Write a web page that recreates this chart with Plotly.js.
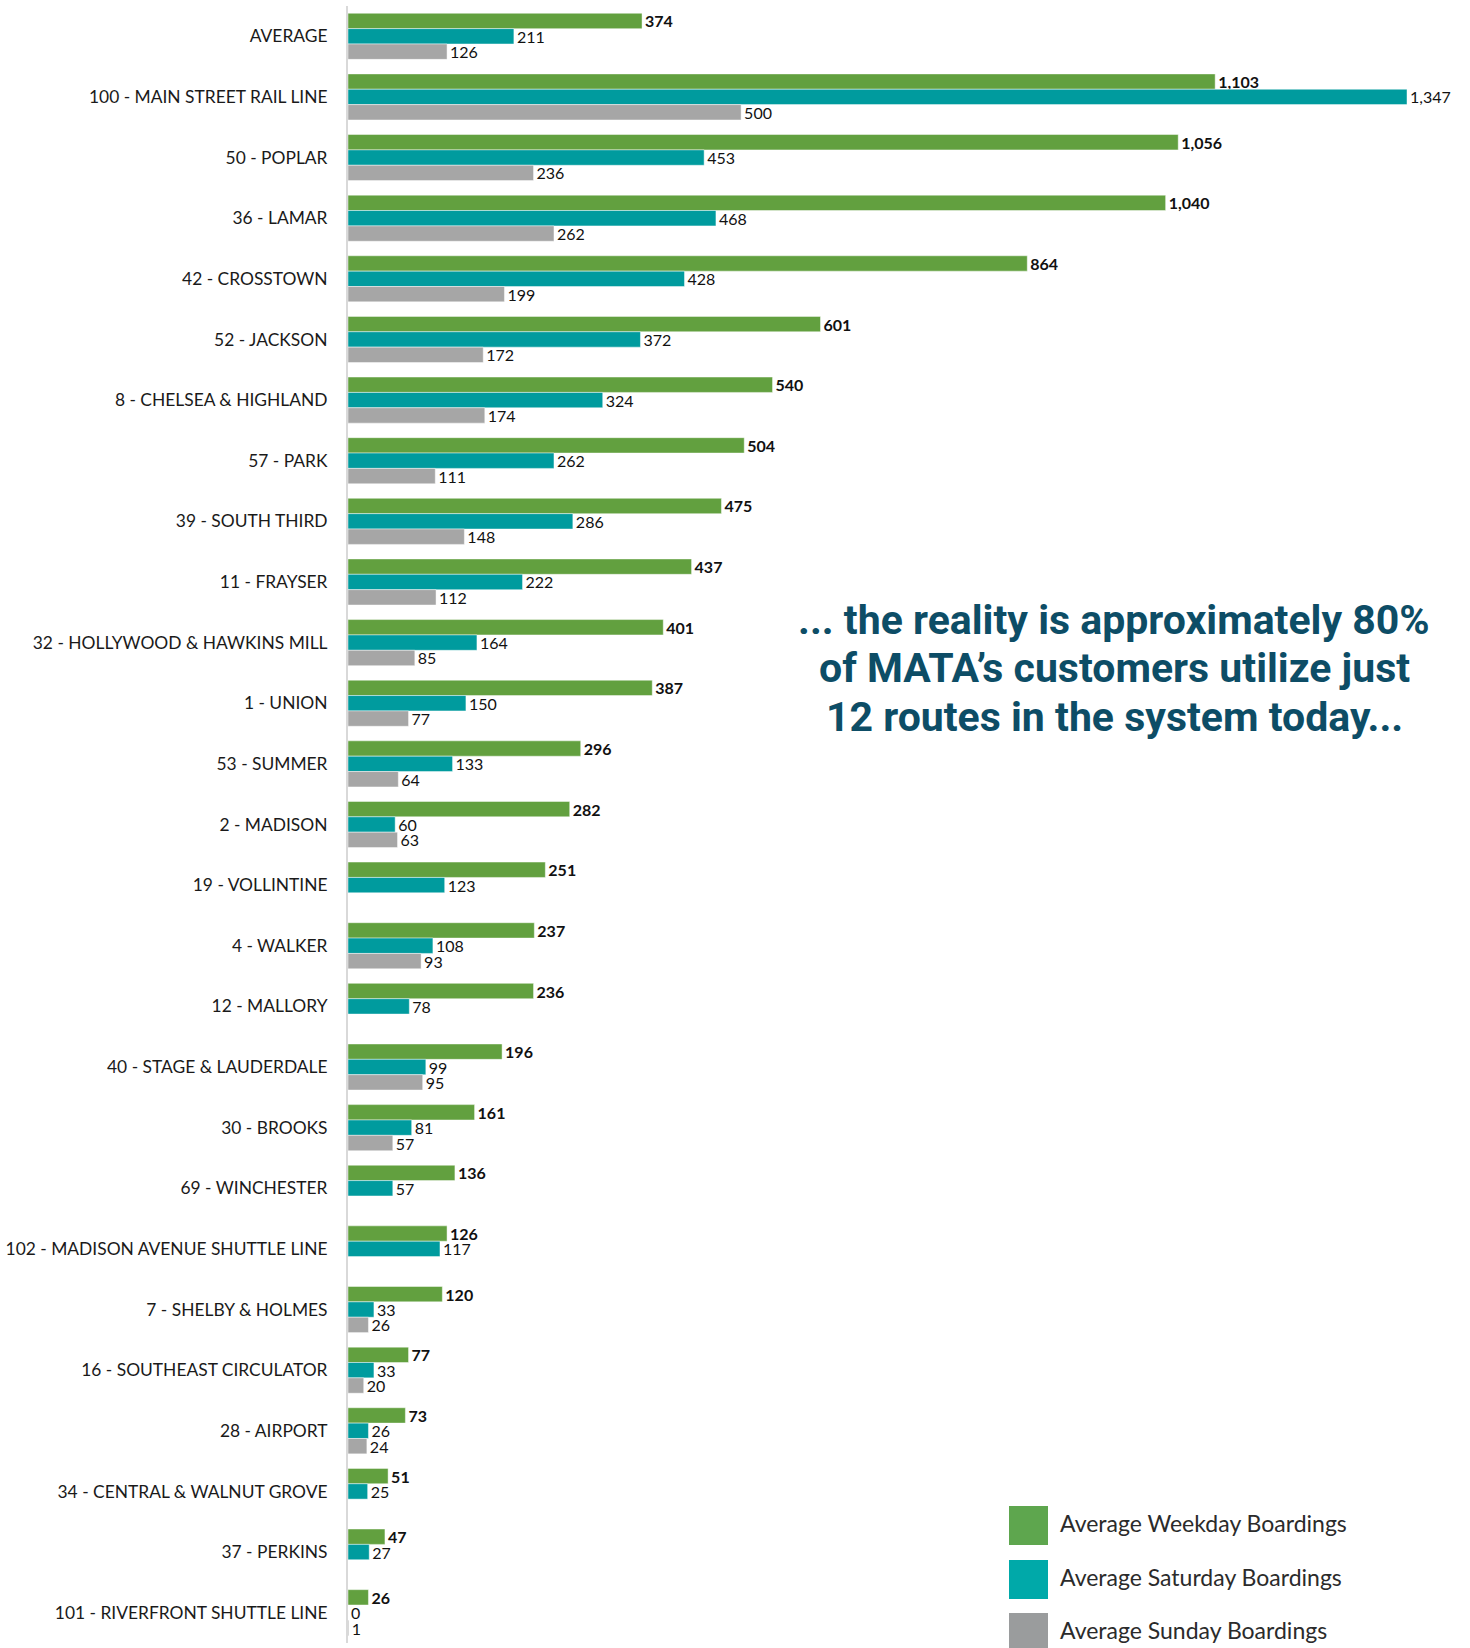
<!DOCTYPE html>
<html>
<head>
<meta charset="utf-8">
<script src="https://cdn.plot.ly/plotly-3.0.1.min.js"></script>
<style>
html,body{margin:0;padding:0;background:#fff;}
#chart{width:1470px;height:1648px;}
</style>
</head>
<body>
<div id="chart"></div>
<script>
const routes = [
  "AVERAGE",
  "100 - MAIN STREET RAIL LINE",
  "50 - POPLAR",
  "36 - LAMAR",
  "42 - CROSSTOWN",
  "52 - JACKSON",
  "8 - CHELSEA & HIGHLAND",
  "57 - PARK",
  "39 - SOUTH THIRD",
  "11 - FRAYSER",
  "32 - HOLLYWOOD & HAWKINS MILL",
  "1 - UNION",
  "53 - SUMMER",
  "2 - MADISON",
  "19 - VOLLINTINE",
  "4 - WALKER",
  "12 - MALLORY",
  "40 - STAGE & LAUDERDALE",
  "30 - BROOKS",
  "69 - WINCHESTER",
  "102 - MADISON AVENUE SHUTTLE LINE",
  "7 - SHELBY & HOLMES",
  "16 - SOUTHEAST CIRCULATOR",
  "28 - AIRPORT",
  "34 - CENTRAL & WALNUT GROVE",
  "37 - PERKINS",
  "101 - RIVERFRONT SHUTTLE LINE"
];
const weekday  = [374,1103,1056,1040,864,601,540,504,475,437,401,387,296,282,251,237,236,196,161,136,126,120,77,73,51,47,26];
const saturday = [211,1347,453,468,428,372,324,262,286,222,164,150,133,60,123,108,78,99,81,57,117,33,33,26,25,27,0];
const sunday   = [126,500,236,262,199,172,174,111,148,112,85,77,64,63,null,93,null,95,57,null,null,26,20,24,null,null,1];

const seriesNames = ["Average Weekday Boardings","Average Saturday Boardings","Average Sunday Boardings"];
const calloutLines = [
  "... the reality is approximately 80%",
  "of MATA\u2019s customers utilize just",
  "12 routes in the system today..."
];

// layout geometry (pixels)
const W = 1470, H = 1648;
const M = {l: 348, r: 40, t: 6, b: 5};
const plotW = W - M.l - M.r, plotH = H - M.t - M.b;
const px = v => (v - M.l) / plotW;
const py = v => (H - M.b - v) / plotH;

const barColors = ["#62a03f", "#009b9e", "#a6a6a6"];
const legendColors = ["#5ea64e", "#00a9a9", "#9a9c9d"];
const valueFont = "Lato, 'Open Sans', sans-serif";

function barTrace(vals, i, bold) {
  return {
    type: "bar",
    orientation: "h",
    name: seriesNames[i],
    y: routes,
    x: vals,
    marker: {color: barColors[i], line: {color: "rgba(255,255,255,0.45)", width: 1}},
    texttemplate: bold ? "<b>%{x:,}</b>" : "%{x:,}",
    textposition: "outside",
    cliponaxis: false,
    constraintext: "none",
    textfont: {family: valueFont, size: 16, color: "#111"},
    hoverinfo: "x+y+name",
    showlegend: false
  };
}

const data = [
  barTrace(weekday, 0, true),
  barTrace(saturday, 1, false),
  barTrace(sunday, 2, false)
];

const shapes = [];
const annotations = [];
const legTop = [1506, 1560, 1613];
seriesNames.forEach((n, i) => {
  shapes.push({
    type: "rect", xref: "paper", yref: "paper",
    x0: px(1009), x1: px(1048), y0: py(legTop[i] + 39), y1: py(legTop[i]),
    fillcolor: legendColors[i], line: {width: 0}
  });
  annotations.push({
    xref: "paper", yref: "paper", x: px(1058), y: py(legTop[i] + 16.5),
    xanchor: "left", yanchor: "middle", showarrow: false,
    text: n, font: {family: "Lato, sans-serif", size: 23, color: "#2b2b2b"}
  });
});
const lineY = [620, 668, 717];
calloutLines.forEach((t, i) => {
  annotations.push({
    xref: "paper", yref: "paper", x: px(1114), y: py(lineY[i]),
    xanchor: "center", yanchor: "middle", showarrow: false,
    text: "<b>" + t + "</b>",
    font: {family: "Roboto, 'Liberation Sans', sans-serif", size: 41, color: "#0d4d66"}
  });
});

const layout = {
  width: W, height: H,
  margin: M,
  paper_bgcolor: "#fff", plot_bgcolor: "#fff",
  barmode: "group",
  bargap: 0.24,
  bargroupgap: 0,
  xaxis: {
    range: [0, plotW / (1059 / 1347)],
    showgrid: false, zeroline: false, showticklabels: false, showline: false, ticks: ""
  },
  yaxis: {
    type: "category",
    autorange: "reversed",
    showgrid: false, zeroline: false,
    showline: true, linecolor: "#d9d9d9", linewidth: 2,
    ticks: "", ticklabelstandoff: 15,
    tickfont: {family: "Lato, 'Open Sans', sans-serif", size: 17.4, color: "#1a1a1a"}
  },
  shapes: shapes,
  annotations: annotations,
  showlegend: false
};

Plotly.newPlot("chart", data, layout, {displayModeBar: false, staticPlot: true});
</script>
</body>
</html>
